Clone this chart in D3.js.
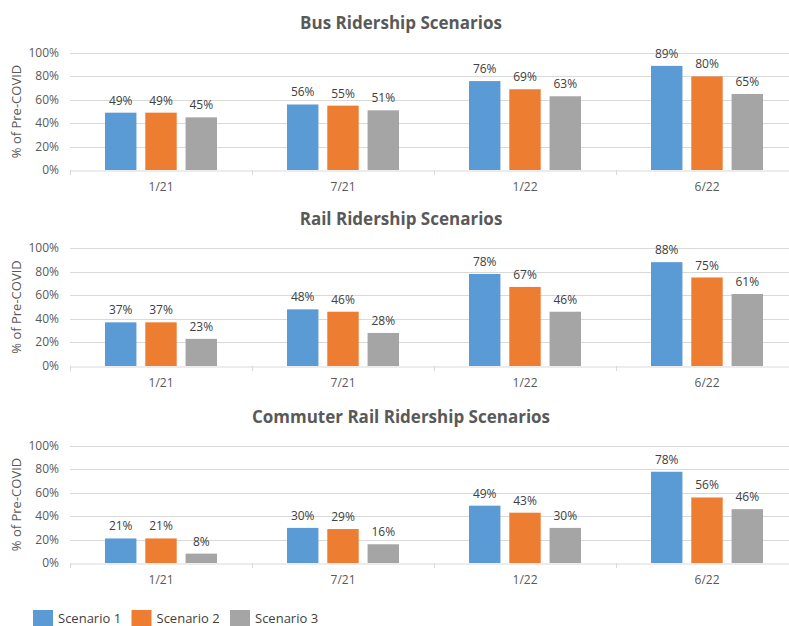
<!DOCTYPE html>
<html>
<head>
<meta charset="utf-8">
<script src="https://cdn.jsdelivr.net/npm/d3@7"></script>
<style>
    body { margin: 0; background: #fff; }
    svg { display: block; font-family: "Open Sans", sans-serif; }
</style>
</head>
<body>
<div id="chart"></div>
<script>
// Chart data
const periods = ['1/21', '7/21', '1/22', '6/22'];
const scenarios = ['Scenario 1', 'Scenario 2', 'Scenario 3'];
const colors = ['#5b9bd5', '#ed7d31', '#a5a5a5'];
const yTicks = [0, 20, 40, 60, 80, 100];

const busTitle = 'Bus Ridership Scenarios';
const busS1 = [49, 56, 76, 89];
const busS2 = [49, 55, 69, 80];
const busS3 = [45, 51, 63, 65];

const railTitle = 'Rail Ridership Scenarios';
const railS1 = [37, 48, 78, 88];
const railS2 = [37, 46, 67, 75];
const railS3 = [23, 28, 46, 61];

const commuterTitle = 'Commuter Rail Ridership Scenarios';
const commuterS1 = [21, 30, 49, 78];
const commuterS2 = [21, 29, 43, 56];
const commuterS3 = [8, 16, 30, 46];

const width = 789;
const height = 626;
const plotLeft = 70;
const plotRight = 798;   // the original runs off the right edge

const svg = d3.select('#chart')
    .append('svg')
    .attr('width', width)
    .attr('height', height);

const x0 = d3.scaleBand()
    .domain(periods)
    .range([plotLeft, plotRight])
    .padding(0);

const x1 = d3.scaleBand()
    .domain(scenarios)
    .range([x0.bandwidth() / 2 - 56, x0.bandwidth() / 2 + 56])
    .paddingInner(0.22)
    .paddingOuter(0);

function drawPanel(title, series, top, bottom, titleY) {
    const y = d3.scaleLinear().domain([0, 100]).range([bottom, top]);
    const g = svg.append('g');

    g.append('text')
        .attr('x', 401)
        .attr('y', titleY)
        .attr('text-anchor', 'middle')
        .attr('font-size', 17)
        .attr('font-weight', 'bold')
        .attr('fill', '#595959')
        .text(title);

    // gridlines
    g.selectAll('.grid')
        .data(yTicks.filter(d => d > 0))
        .enter()
        .append('line')
        .attr('x1', plotLeft)
        .attr('x2', plotRight)
        .attr('y1', d => Math.round(y(d)) + 0.5)
        .attr('y2', d => Math.round(y(d)) + 0.5)
        .attr('stroke', '#d9d9d9');

    // y tick labels
    g.selectAll('.ylab')
        .data(yTicks)
        .enter()
        .append('text')
        .attr('x', 59)
        .attr('y', d => y(d) + 4)
        .attr('text-anchor', 'end')
        .attr('font-size', 12)
        .attr('fill', '#595959')
        .text(d => d + '%');

    g.append('text')
        .attr('transform', 'translate(21,' + ((top + bottom) / 2) + ') rotate(-90)')
        .attr('text-anchor', 'middle')
        .attr('font-size', 13)
        .attr('fill', '#595959')
        .text('% of Pre-COVID');

    // bars
    const groups = g.selectAll('.period')
        .data(periods)
        .enter()
        .append('g')
        .attr('transform', d => 'translate(' + x0(d) + ',0)');

    groups.selectAll('rect')
        .data((d, i) => series.map((s, j) => ({ key: scenarios[j], value: s[i], color: colors[j] })))
        .enter()
        .append('rect')
        .attr('x', d => x1(d.key))
        .attr('width', x1.bandwidth())
        .attr('y', d => y(d.value))
        .attr('height', d => bottom - y(d.value))
        .attr('fill', d => d.color);

    groups.selectAll('.lbl')
        .data((d, i) => series.map((s, j) => ({ key: scenarios[j], value: s[i] })))
        .enter()
        .append('text')
        .attr('x', d => x1(d.key) + x1.bandwidth() / 2)
        .attr('y', d => y(d.value) - 8)
        .attr('text-anchor', 'middle')
        .attr('font-size', 12)
        .attr('fill', '#404040')
        .text(d => d.value + '%');

    // x axis with ticks between categories
    const axis = g.append('g')
        .attr('transform', 'translate(0,' + (Math.round(bottom) + 0.5) + ')')
        .call(d3.axisBottom(x0).tickSize(0).tickPadding(12));
    axis.select('.domain').attr('stroke', '#d9d9d9');
    axis.selectAll('text')
        .attr('font-size', 12)
        .attr('font-family', '"Open Sans", sans-serif')
        .attr('fill', '#595959');

    g.selectAll('.sep')
        .data(periods)
        .enter()
        .append('line')
        .attr('x1', d => Math.round(x0(d)) + 0.5)
        .attr('x2', d => Math.round(x0(d)) + 0.5)
        .attr('y1', bottom)
        .attr('y2', bottom + 5)
        .attr('stroke', '#d9d9d9');
}

drawPanel(busTitle, [busS1, busS2, busS3], 53, 170, 29);
drawPanel(railTitle, [railS1, railS2, railS3], 248, 366, 225);
drawPanel(commuterTitle, [commuterS1, commuterS2, commuterS3], 446, 563, 423);

// legend
const legend = svg.selectAll('.legend')
    .data(scenarios)
    .enter()
    .append('g')
    .attr('transform', (d, i) => 'translate(' + (33 + i * 98.5) + ',610)');

legend.append('rect')
    .attr('width', 20)
    .attr('height', 16)
    .attr('fill', (d, i) => colors[i]);

legend.append('text')
    .attr('x', 25)
    .attr('y', 13)
    .attr('font-size', 13)
    .attr('fill', '#404040')
    .text(d => d);
</script>
</body>
</html>
